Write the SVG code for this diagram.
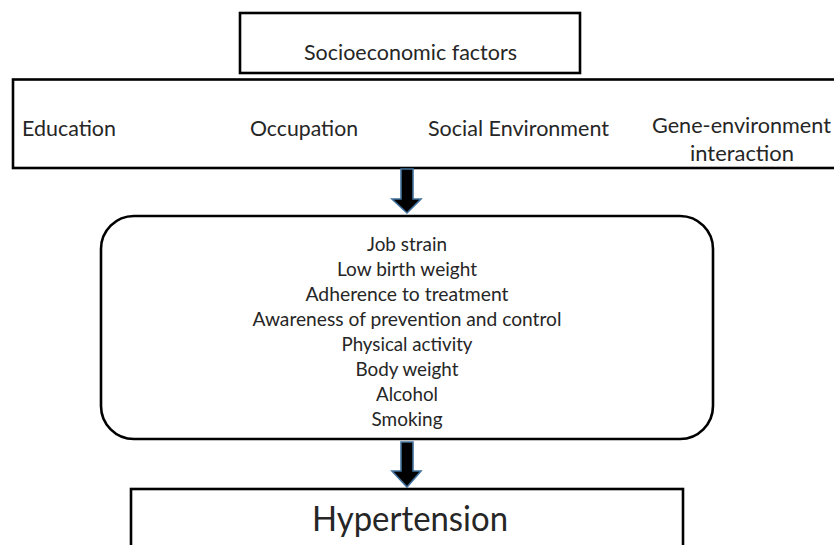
<svg xmlns="http://www.w3.org/2000/svg" width="834" height="545" viewBox="0 0 834 545">
  <style>
    .box { fill: #ffffff; stroke: #000000; stroke-width: 2.6; }
    .t { font-family: Lato, "Open Sans", "Liberation Sans", sans-serif; fill: #262626; }
    .row { font-size: 22px; }
    .list { font-size: 20px; text-anchor: middle; }
    .big { font-size: 34px; text-anchor: middle; }
    .arrow { fill: #000000; stroke: #41719C; stroke-width: 1.6; stroke-linejoin: miter; }
  </style>
  <rect width="834" height="545" fill="#ffffff"/>

  <g id="socioeconomic-factors">
    <rect class="box" x="240" y="13" width="340" height="60"/>
    <text class="t row" x="304" y="60" textLength="213" lengthAdjust="spacingAndGlyphs">Socioeconomic factors</text>
  </g>

  <g id="factors-row">
    <rect class="box" x="13" y="79.5" width="840" height="88.5"/>
    <text class="t row" x="22" y="136" textLength="94" lengthAdjust="spacingAndGlyphs">Education</text>
    <text class="t row" x="250" y="136" textLength="108" lengthAdjust="spacingAndGlyphs">Occupation</text>
    <text class="t row" x="428" y="136" textLength="181" lengthAdjust="spacingAndGlyphs">Social Environment</text>
    <text class="t row" x="652" y="133" textLength="179" lengthAdjust="spacingAndGlyphs">Gene-environment</text>
    <text class="t row" x="690" y="161" textLength="104" lengthAdjust="spacingAndGlyphs">interaction</text>
  </g>

  <g id="mediators">
    <rect class="box" x="101" y="216" width="612" height="223" rx="33" ry="33"/>
    <text class="t list" x="407" y="251" textLength="80" lengthAdjust="spacingAndGlyphs">Job strain</text>
    <text class="t list" x="407" y="276" textLength="140" lengthAdjust="spacingAndGlyphs">Low birth weight</text>
    <text class="t list" x="407" y="301" textLength="203" lengthAdjust="spacingAndGlyphs">Adherence to treatment</text>
    <text class="t list" x="407" y="326" textLength="309" lengthAdjust="spacingAndGlyphs">Awareness of prevention and control</text>
    <text class="t list" x="407" y="351" textLength="131" lengthAdjust="spacingAndGlyphs">Physical activity</text>
    <text class="t list" x="407" y="376" textLength="103" lengthAdjust="spacingAndGlyphs">Body weight</text>
    <text class="t list" x="407" y="401" textLength="62" lengthAdjust="spacingAndGlyphs">Alcohol</text>
    <text class="t list" x="407" y="426" textLength="71" lengthAdjust="spacingAndGlyphs">Smoking</text>
  </g>

  <g id="hypertension">
    <rect class="box" x="131" y="489" width="552" height="70"/>
    <text class="t big" x="410" y="531" textLength="196" lengthAdjust="spacingAndGlyphs">Hypertension</text>
  </g>

  <g id="connectors">
    <polygon class="arrow" points="401,169 413,169 413,199 421,199 407,213 392,199 401,199"/>
    <polygon class="arrow" points="401,442 413,442 413,471 421,471 407,487 392,471 401,471"/>
  </g>
</svg>
